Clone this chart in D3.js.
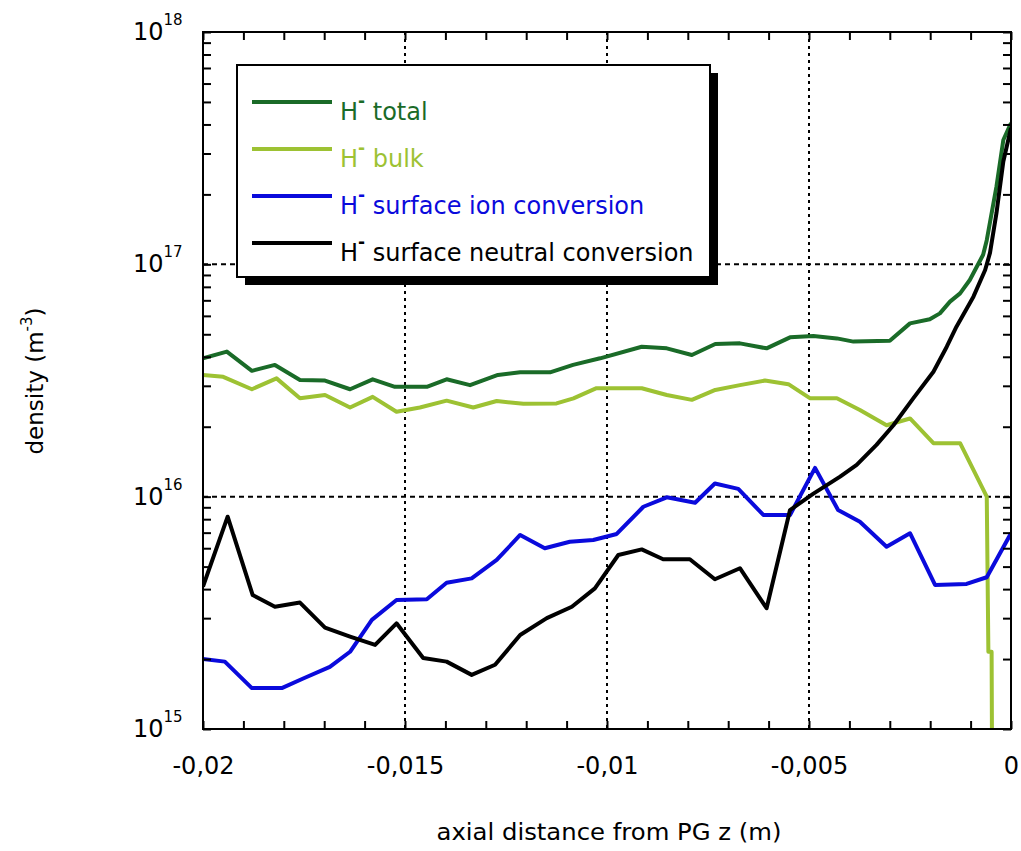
<!DOCTYPE html>
<html>
<head>
<meta charset="utf-8">
<script src="https://cdn.jsdelivr.net/npm/d3@7"></script>
<style>
  body { margin: 0; background: #fff; }
  svg { display: block; }
  text { font-family: "DejaVu Sans", Verdana, sans-serif; fill: #000; }
</style>
</head>
<body>
<svg id="chart" width="1021" height="851"></svg>
<script>
// H- density profiles along the axis, z in metres, density in m^-3
const totalSeries = [[-0.0200,3.94e16],[-0.01941,4.21e16],[-0.01879,3.48e16],[-0.01822,3.69e16],[-0.01760,3.18e16],[-0.01698,3.16e16],[-0.01636,2.90e16],[-0.01580,3.20e16],[-0.01525,2.97e16],[-0.01446,2.97e16],[-0.01397,3.20e16],[-0.01339,3.02e16],[-0.01270,3.34e16],[-0.01215,3.43e16],[-0.01141,3.43e16],[-0.01084,3.69e16],[-0.01017,3.94e16],[-0.00914,4.42e16],[-0.00852,4.35e16],[-0.00790,4.07e16],[-0.00732,4.54e16],[-0.00671,4.57e16],[-0.00605,4.35e16],[-0.00547,4.85e16],[-0.00489,4.91e16],[-0.00431,4.80e16],[-0.00390,4.65e16],[-0.00300,4.69e16],[-0.00250,5.57e16],[-0.00201,5.80e16],[-0.00176,6.15e16],[-0.00151,6.91e16],[-0.00126,7.50e16],[-0.00102,8.56e16],[-0.00069,1.10e17],[-0.00060,1.27e17],[-0.00036,2.16e17],[-0.00019,3.43e17],[0,4.06e17]];

const bulkSeries = [[-0.0200,3.34e16],[-0.01950,3.28e16],[-0.01879,2.90e16],[-0.01818,3.23e16],[-0.01760,2.65e16],[-0.01698,2.74e16],[-0.01636,2.42e16],[-0.01580,2.69e16],[-0.01521,2.32e16],[-0.01463,2.42e16],[-0.01397,2.59e16],[-0.01331,2.42e16],[-0.01273,2.58e16],[-0.01207,2.51e16],[-0.01125,2.52e16],[-0.01083,2.65e16],[-0.01026,2.93e16],[-0.00914,2.93e16],[-0.00852,2.74e16],[-0.00790,2.61e16],[-0.00732,2.88e16],[-0.00671,3.02e16],[-0.00609,3.16e16],[-0.00551,3.05e16],[-0.00497,2.65e16],[-0.00431,2.65e16],[-0.00374,2.36e16],[-0.00308,2.03e16],[-0.00250,2.17e16],[-0.00192,1.70e16],[-0.00126,1.70e16],[-0.00060,1.00e16],[-0.00056,2.15e15],[-0.00048,2.15e15],[-0.00047,8e14]];

const ionSeries = [[-0.0200,2.00e15],[-0.01946,1.95e15],[-0.01879,1.50e15],[-0.01805,1.50e15],[-0.01752,1.65e15],[-0.01686,1.85e15],[-0.01636,2.15e15],[-0.01582,2.95e15],[-0.01521,3.59e15],[-0.01446,3.62e15],[-0.01397,4.26e15],[-0.01335,4.45e15],[-0.01273,5.34e15],[-0.01215,6.84e15],[-0.01154,6.00e15],[-0.01092,6.40e15],[-0.01034,6.51e15],[-0.00976,6.91e15],[-0.00910,9.05e15],[-0.00852,9.94e15],[-0.00782,9.42e15],[-0.00733,1.14e16],[-0.00675,1.08e16],[-0.00613,8.34e15],[-0.00547,8.34e15],[-0.00485,1.33e16],[-0.00428,8.76e15],[-0.00374,7.80e15],[-0.00308,6.09e15],[-0.00250,6.96e15],[-0.00188,4.17e15],[-0.00110,4.21e15],[-0.00060,4.50e15],[0,6.96e15]];

const neutralSeries = [[-0.0200,4.10e15],[-0.01939,8.20e15],[-0.01877,3.77e15],[-0.01822,3.36e15],[-0.01760,3.50e15],[-0.01698,2.73e15],[-0.01636,2.50e15],[-0.01574,2.30e15],[-0.01521,2.85e15],[-0.01455,2.02e15],[-0.01397,1.95e15],[-0.01335,1.71e15],[-0.01277,1.89e15],[-0.01215,2.54e15],[-0.01149,3.00e15],[-0.01087,3.36e15],[-0.01030,4.03e15],[-0.00972,5.61e15],[-0.00914,5.93e15],[-0.00861,5.38e15],[-0.00795,5.38e15],[-0.00733,4.41e15],[-0.00671,4.92e15],[-0.00605,3.31e15],[-0.00547,8.76e15],[-0.00489,1.03e16],[-0.00423,1.22e16],[-0.00382,1.37e16],[-0.00333,1.67e16],[-0.00291,2.03e16],[-0.00242,2.65e16],[-0.00192,3.45e16],[-0.00159,4.42e16],[-0.00135,5.39e16],[-0.00093,7.26e16],[-0.00064,9.45e16],[-0.00052,1.12e17],[-0.00036,1.66e17],[-0.00019,2.77e17],[0,3.86e17]];

const legendLabels = ["total", "bulk", "surface ion conversion", "surface neutral conversion"];
const seriesColors = ["#1a6b28", "#9dc233", "#0a0adc", "#000000"];
const xTickValues = [-0.02, -0.015, -0.01, -0.005, 0];
const yDecades = [1e15, 1e16, 1e17, 1e18];
const xGridValues = [-0.015, -0.01, -0.005];
const yGridValues = [1e16, 1e17];
const xTitle = "axial distance from PG z (m)";

const svg = d3.select("#chart");
const plotLeft = 203, plotRight = 1011, plotTop = 32, plotBottom = 729;

const x = d3.scaleLinear().domain([-0.02, 0]).range([plotLeft, plotRight]);
const y = d3.scaleLog().domain([1e15, 1e18]).range([plotBottom, plotTop]);

const locale = d3.formatLocale({ decimal: ",", thousands: ".", grouping: [3], currency: ["", ""], minus: "-" });
const fmt = locale.format("~g");

svg.append("defs").append("clipPath").attr("id", "plotClip")
  .append("rect").attr("x", plotLeft).attr("y", plotTop)
  .attr("width", plotRight - plotLeft).attr("height", plotBottom - plotTop);

// dotted grid at the major ticks
const grid = svg.append("g").attr("stroke", "#000").attr("stroke-width", 2).attr("fill", "none");
grid.selectAll(".gx").data(xGridValues).join("line").attr("class", "gx")
  .attr("x1", d => x(d)).attr("x2", d => x(d)).attr("y1", plotTop).attr("y2", plotBottom)
  .attr("stroke-dasharray", "3,4");
grid.selectAll(".gy").data(yGridValues).join("line").attr("class", "gy")
  .attr("x1", plotLeft).attr("x2", plotRight).attr("y1", d => y(d)).attr("y2", d => y(d))
  .attr("stroke-dasharray", "5,4");

// curves
const line = d3.line().x(d => x(d[0])).y(d => y(d[1]));
const allSeries = [totalSeries, bulkSeries, ionSeries, neutralSeries];
svg.append("g").attr("clip-path", "url(#plotClip)")
  .selectAll("path").data(allSeries).join("path")
  .attr("d", line)
  .attr("fill", "none")
  .attr("stroke", (d, i) => seriesColors[i])
  .attr("stroke-width", 4)
  .attr("stroke-linejoin", "round");

// minor ticks, pointing inward on all four sides
const xMinor = d3.range(-0.02, 0.0005, 0.001);
const yMinor = y.ticks();
const tickStyle = g => {
  g.select(".domain").remove();
  g.selectAll("line").attr("stroke", "#000").attr("stroke-width", 2);
  g.selectAll("text").remove();
};
svg.append("g").attr("transform", `translate(0,${plotBottom})`)
  .call(d3.axisBottom(x).tickValues(xMinor).tickSize(-8).tickFormat("")).call(tickStyle);
svg.append("g").attr("transform", `translate(0,${plotTop})`)
  .call(d3.axisTop(x).tickValues(xMinor).tickSize(-8).tickFormat("")).call(tickStyle);
svg.append("g").attr("transform", `translate(${plotLeft},0)`)
  .call(d3.axisLeft(y).tickValues(yMinor).tickSize(-8).tickFormat("")).call(tickStyle);
svg.append("g").attr("transform", `translate(${plotRight},0)`)
  .call(d3.axisRight(y).tickValues(yMinor).tickSize(-8).tickFormat("")).call(tickStyle);

// frame
svg.append("rect").attr("x", plotLeft).attr("y", plotTop)
  .attr("width", plotRight - plotLeft).attr("height", plotBottom - plotTop)
  .attr("fill", "none").attr("stroke", "#000").attr("stroke-width", 2);

// x tick labels
const xAxisLabels = svg.append("g").attr("transform", `translate(0,${plotBottom})`)
  .call(d3.axisBottom(x).tickValues(xTickValues).tickSize(0).tickPadding(28).tickFormat(fmt));
xAxisLabels.select(".domain").remove();
xAxisLabels.selectAll("text").attr("font-family", "DejaVu Sans").attr("font-size", 24).attr("fill", "#000");

// y decade labels as 10 with a raised exponent
const yl = svg.append("g").selectAll("text").data(yDecades).join("text")
  .attr("y", d => y(d) + 8).attr("font-size", 24);
yl.append("tspan").attr("x", 133).text("10");
yl.append("tspan").attr("dy", -15).attr("font-size", 15).text(d => Math.round(Math.log10(d)));

// axis titles
svg.append("text").attr("x", 609).attr("y", 840).attr("text-anchor", "middle")
  .attr("font-size", 23).attr("textLength", 345).attr("lengthAdjust", "spacingAndGlyphs").text(xTitle);

const yt = svg.append("text").attr("transform", "translate(43,381) rotate(-90)")
  .attr("text-anchor", "middle").attr("font-size", 23);
yt.append("tspan").text("density (m");
yt.append("tspan").attr("dy", -11).attr("font-size", 15).text("-3");
yt.append("tspan").attr("dy", 11).text(")");

// legend with drop shadow
const lg = svg.append("g");
lg.append("rect").attr("x", 245).attr("y", 73).attr("width", 473).attr("height", 212).attr("fill", "#000");
lg.append("rect").attr("x", 237).attr("y", 65).attr("width", 473).attr("height", 212)
  .attr("fill", "#fff").attr("stroke", "#000").attr("stroke-width", 2);
const rows = lg.selectAll(".row").data(legendLabels).join("g").attr("class", "row")
  .attr("transform", (d, i) => `translate(0,${102 + i * 47})`);
rows.append("line").attr("x1", 252).attr("x2", 332).attr("y1", 0).attr("y2", 0)
  .attr("stroke", (d, i) => seriesColors[i]).attr("stroke-width", 4);
const rt = rows.append("text").attr("x", 340).attr("y", 18).attr("font-size", 24)
  .style("fill", (d, i) => seriesColors[i]);
rt.append("tspan").text("H");
rt.append("tspan").attr("dy", -13).attr("font-size", 17).attr("font-weight", "bold").text("-");
rt.append("tspan").attr("dy", 13).text(d => " " + d);
</script>
</body>
</html>
